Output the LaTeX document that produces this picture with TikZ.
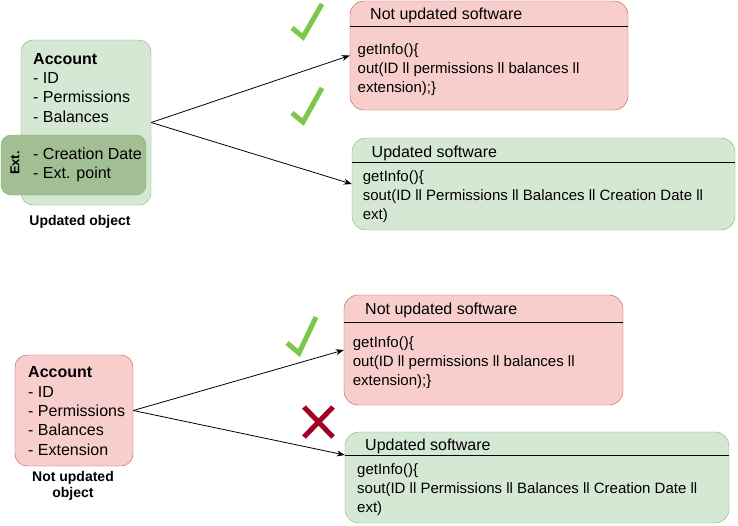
\documentclass[tikz,border=0pt]{standalone}
\usepackage{fontspec}
\setmainfont{Liberation Sans}
\usetikzlibrary{arrows.meta}

\definecolor{okfill}{HTML}{D5E8D4}
\definecolor{okline}{HTML}{82B366}
\definecolor{extfill}{RGB}{162,191,148}
\definecolor{badfill}{HTML}{F8CECC}
\definecolor{badline}{HTML}{B85450}
\definecolor{tick}{HTML}{7DC74A}
\definecolor{cross}{HTML}{A20025}

\tikzset{
  objbox/.style = {draw, rounded corners=12pt, inner sep=0pt},
  swbox/.style = {draw, rounded corners=14pt, inner sep=0pt},
  bodytext/.style = {anchor=base west, inner sep=0pt, align=left,
    font=\fontsize{15}{19}\selectfont},
  headtext/.style = {anchor=base west, inner sep=0pt,
    font=\fontsize{16}{19}\selectfont},
  fieldtext/.style = {anchor=base west, inner sep=0pt, align=left,
    font=\fontsize{16}{19.3}\selectfont},
  caption/.style = {anchor=base, inner sep=0pt, align=center,
    font=\fontsize{14}{15.5}\selectfont\bfseries},
  link/.style = {-{Stealth[length=8pt,width=6pt]}, line width=0.8pt},
  okmark/.style = {tick, line width=5pt},
  badmark/.style = {cross, line width=5pt}
}

\begin{document}
\begin{tikzpicture}[x=1pt, y=-1pt]
        \useasboundingbox (0,0) rectangle (738,525);

        % updated object (text nodes sit on their last baseline)
        \node[objbox, fill=okfill, draw=okline, minimum width=130pt, minimum height=165pt] (acctNew) at (86,122.5) {};
        \node[fieldtext] (acctNewTxt) at (33,122.2) {\textbf{Account}\\- ID\\- Permissions\\- Balances};
        \node[objbox, rounded corners=10pt, fill=extfill, draw=okline, minimum width=145pt, minimum height=60pt] (extBox) at (73.5,165) {};
        \node[inner sep=0pt, rotate=90, font=\fontsize{13}{13}\selectfont\bfseries] (extTxt) at (15,163) {Ext.};
        \node[fieldtext, font=\fontsize{16}{19}\selectfont] (extFields) at (33,178.5) {- Creation Date\\- Ext. point};
        \node[caption] (acctNewCap) at (80,225) {Updated object};

        % not updated object
        \node[objbox, fill=badfill, draw=badline, minimum width=118pt, minimum height=111pt] (acctOld) at (74,410.5) {};
        \node[fieldtext] (acctOldTxt) at (28,455) {\textbf{Account}\\- ID\\- Permissions\\- Balances\\- Extension};
        \node[caption] (acctOldCap) at (73,497) {Not updated\\object};

        % software, top
        \node[swbox, fill=badfill, draw=badline, minimum width=278pt, minimum height=109pt] (swTopOld) at (489,55.5) {};
        \draw (swTopOld.west |- 0,26) -- (swTopOld.east |- 0,26);
        \node[headtext] (swTopOldHd) at (370,19.3) {Not updated software};
        \node[bodytext] (swTopOldTxt) at (357.5,92.3) {getInfo()\{\\out(ID ll permissions ll balances ll\\extension);\}};

        \node[swbox, fill=okfill, draw=okline, minimum width=383pt, minimum height=92pt] (swTopNew) at (543.5,184) {};
        \draw (swTopNew.west |- 0,162) -- (swTopNew.east |- 0,162);
        \node[headtext] (swTopNewHd) at (371.5,157.5) {Updated software};
        \node[bodytext] (swTopNewTxt) at (362.7,219.5) {getInfo()\{\\sout(ID ll Permissions ll Balances ll Creation Date ll\\ext)};

        % software, bottom
        \node[swbox, fill=badfill, draw=badline, minimum width=279pt, minimum height=110pt] (swBotOld) at (483.5,350) {};
        \draw (swBotOld.west |- 0,322) -- (swBotOld.east |- 0,322);
        \node[headtext] (swBotOldHd) at (365,314.5) {Not updated software};
        \node[bodytext] (swBotOldTxt) at (352.7,385) {getInfo()\{\\out(ID ll permissions ll balances ll\\extension);\}};

        \node[swbox, fill=okfill, draw=okline, minimum width=384pt, minimum height=91pt] (swBotNew) at (537,477.5) {};
        \coordinate (swBotNewL) at (swBotNew.west |- 0,455);
        \coordinate (swBotNewR) at (swBotNew.east |- 0,455);
        \draw (swBotNewL) -- (swBotNewR);
        \node[headtext] (swBotNewHd) at (365,450.5) {Updated software};
        \node[bodytext] (swBotNewTxt) at (357,512) {getInfo()\{\\sout(ID ll Permissions ll Balances ll Creation Date ll\\ext)};

        % connectors
        \draw[link] (acctNew.east) -- (swTopOld.west);
        \draw[link] (acctNew.east) -- (swTopNew.west);
        \draw[link] (acctOld.east) -- (swBotOld.west);
        \draw[link] (acctOld.east) -- (swBotNewL);

        % marks
        \draw[okmark] (292,28) -- (303,37) -- (322,4);
        \draw[okmark] (292,113) -- (303,122) -- (322,88);
        \draw[okmark] (287,343) -- (299,353) -- (316,317);
        \draw[badmark] (304,407) -- (333,437);
        \draw[badmark] (333,407) -- (304,437);
\end{tikzpicture}
\end{document}
